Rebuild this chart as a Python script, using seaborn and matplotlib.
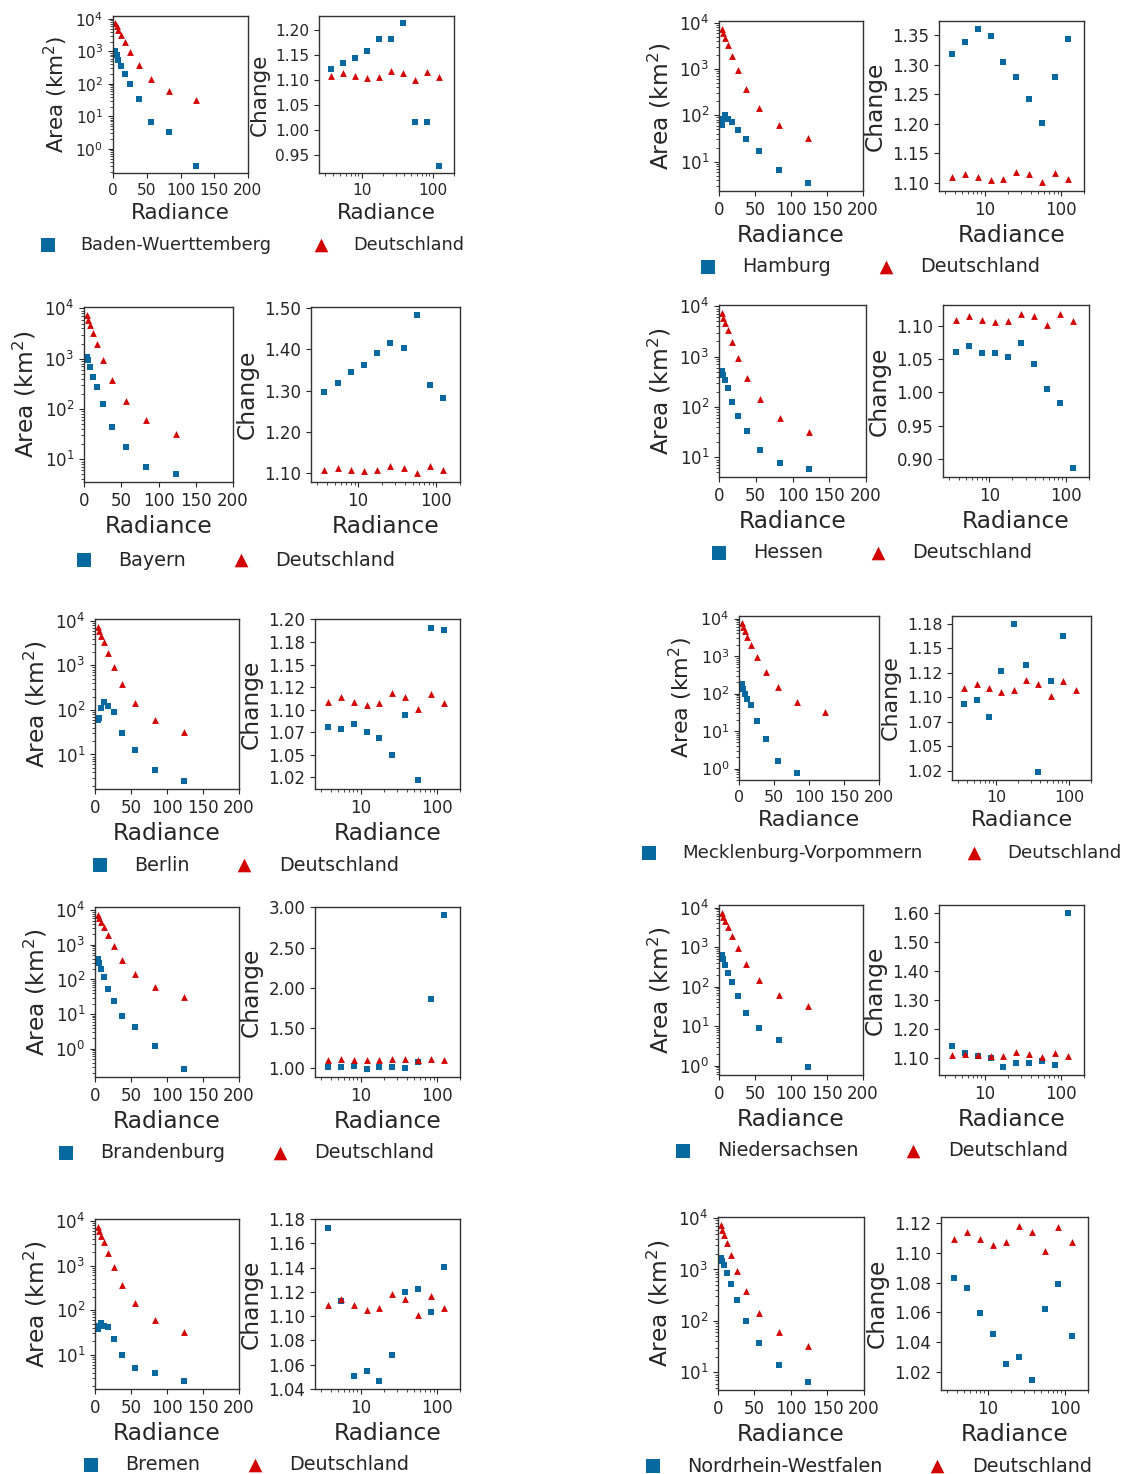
import numpy as np
import pandas as pd
import matplotlib
matplotlib.use("Agg")
import matplotlib.pyplot as plt
import seaborn as sns
from matplotlib.ticker import MultipleLocator, FuncFormatter, NullFormatter

sns.set_style("ticks")
plt.rcParams['font.family'] = ['DejaVu Sans']

# ------------------------------ data ------------------------------
radiance = [3.7, 5.5, 8.1, 11.9, 17.5, 25.8, 38, 56, 83, 123]

de_area = [7400, 5900, 4700, 3300, 1950, 940, 375, 145, 61, 32]
de_change = [1.109, 1.114, 1.109, 1.105, 1.107, 1.118, 1.114, 1.101, 1.117, 1.107]

bw_area = [1000, 790, 550, 355, 205, 100, 34, 6.5, 3.4, 0.3]
bw_change = [1.122, 1.135, 1.144, 1.159, 1.182, 1.183, 1.214, 1.015, 1.015, 0.928]

hh_area = [61, 85, 100, 85, 70, 47, 31.5, 17, 6.5, 3.4]
hh_change = [1.318, 1.339, 1.360, 1.349, 1.304, 1.279, 1.242, 1.202, 1.279, 1.343]

by_area = [1100, 925, 670, 435, 275, 128, 44, 17.7, 7.2, 5.1]
by_change = [1.296, 1.318, 1.346, 1.362, 1.390, 1.414, 1.404, 1.482, 1.314, 1.282]

he_area = [510, 440, 350, 240, 128, 67, 34, 14.2, 7.7, 5.8]
he_change = [1.061, 1.069, 1.059, 1.059, 1.053, 1.074, 1.043, 1.005, 0.984, 0.886]

be_area = [58, 66, 108, 152, 125, 89, 31, 12.5, 4.4, 2.5]
be_change = [1.0805, 1.078, 1.0845, 1.0757, 1.069, 1.050, 1.094, 1.022, 1.191, 1.188]

mv_area = [175, 136, 100, 73, 50, 18, 6.2, 1.58, 0.78, np.nan]
mv_change = [1.0928, 1.0976, 1.0802, 1.1268, 1.1746, 1.133, 1.024, 1.1167, 1.1627, np.nan]

bb_area = [390, 290, 200, 120, 53, 24, 9.1, 4.1, 1.16, 0.255]
bb_change = [1.017, 1.012, 1.025, 0.996, 1.017, 1.017, 1.004, 1.074, 1.860, 2.905]

ni_area = [620, 510, 360, 225, 133, 57, 21.5, 9.2, 4.4, 0.91]
ni_change = [1.139, 1.115, 1.105, 1.100, 1.069, 1.080, 1.083, 1.088, 1.075, 1.602]

hb_area = [37, 44, 52, 45, 41, 23, 10, 5.1, 3.9, 2.55]
hb_change = [1.1725, 1.1127, 1.0502, 1.0546, 1.0466, 1.0679, 1.1203, 1.1222, 1.1036, 1.1409]

nw_area = [1650, 1450, 1200, 850, 515, 252, 100, 37, 13.7, 6.4]
nw_change = [1.0831, 1.0764, 1.0596, 1.0458, 1.0254, 1.0300, 1.0144, 1.0622, 1.0790, 1.0442]

states = ["Baden-Wuerttemberg", "Hamburg", "Bayern", "Hessen", "Berlin",
          "Mecklenburg-Vorpommern", "Brandenburg", "Niedersachsen", "Bremen",
          "Nordrhein-Westfalen"]
state_area = [bw_area, hh_area, by_area, he_area, be_area, mv_area, bb_area, ni_area, hb_area, nw_area]
state_change = [bw_change, hh_change, by_change, he_change, be_change, mv_change, bb_change,
                ni_change, hb_change, nw_change]

# ------------------------------ layout (pixels) ------------------------------
W, H = 1127, 1474
area_box = [(113, 16, 248, 173), (719, 21, 863, 191), (84, 307, 233, 482), (719, 305, 866, 477),
            (95, 619, 239, 789), (739, 616, 879, 780), (95, 907, 239, 1077), (719, 905, 863, 1075),
            (95, 1219, 239, 1389), (718, 1217, 864, 1390)]
change_box = [(319, 16, 454, 173), (939, 21, 1084, 191), (311, 307, 460, 482), (943, 305, 1089, 477),
              (315, 619, 460, 789), (952, 616, 1091, 780), (315, 907, 460, 1077), (939, 905, 1084, 1075),
              (315, 1219, 460, 1389), (941, 1217, 1088, 1390)]
legend_at = [(41, 245), (700, 267), (76, 560), (711, 553), (92, 865), (642, 853), (58, 1153),
             (675, 1151), (83, 1465), (645, 1466)]
change_ylim = [(0.913, 1.229), (1.086, 1.374), (1.079, 1.502), (0.873, 1.131), (1.012, 1.2005),
               (1.0155, 1.183), (0.893, 3.003), (1.04, 1.629), (1.0398, 1.1802), (1.0079, 1.124)]
change_step = [0.05, 0.05, 0.1, 0.05, 0.025, 0.025, 0.5, 0.1, 0.02, 0.02]
scale = [0.92, 1, 1, 1, 1, 0.95, 1, 1, 1, 1]

blue = '#0869a1'
red = '#d20000'


def rect(b):
    l, t, r, bo = b
    return [l / W, 1 - bo / H, (r - l) / W, (bo - t) / H]


fig = plt.figure(figsize=(W / 100, H / 100), dpi=100)

for i, name in enumerate(states):
    sc = scale[i]
    df = pd.DataFrame({'Radiance': radiance, 'area': state_area[i], 'change': state_change[i],
                       'de_area': de_area, 'de_change': de_change})

    # -------- area vs radiance --------
    ax_a = fig.add_axes(rect(area_box[i]))
    sns.scatterplot(x='Radiance', y='area', data=df, ax=ax_a, marker='s', color=blue,
                    s=24, linewidth=0, label=name)
    sns.scatterplot(x='Radiance', y='de_area', data=df, ax=ax_a, marker='^', color=red,
                    s=24, linewidth=0, label='Deutschland')
    ax_a.set_yscale('log')
    ax_a.set_xlim(0, 200)
    ax_a.set_xticks([0, 50, 100, 150, 200])
    ax_a.set_xlabel('Radiance', fontsize=16.8 * sc)
    ax_a.set_ylabel('Area (km$^2$)', fontsize=16.8 * sc)
    ax_a.tick_params(labelsize=12 * sc)

    # -------- change vs radiance --------
    ax_c = fig.add_axes(rect(change_box[i]))
    sns.scatterplot(x='Radiance', y='change', data=df, ax=ax_c, marker='s', color=blue,
                    s=24, linewidth=0, legend=False)
    sns.scatterplot(x='Radiance', y='de_change', data=df, ax=ax_c, marker='^', color=red,
                    s=24, linewidth=0, legend=False)
    ax_c.set_xscale('log')
    ax_c.set_xlim(2.5, 200)
    ax_c.xaxis.set_major_formatter(FuncFormatter(lambda v, p: '%g' % v))
    ax_c.xaxis.set_minor_formatter(NullFormatter())
    ax_c.set_ylim(*change_ylim[i])
    ax_c.yaxis.set_major_locator(MultipleLocator(change_step[i]))
    ax_c.yaxis.set_major_formatter(FuncFormatter(lambda v, p: '%.2f' % round(v, 6)))
    ax_c.set_xlabel('Radiance', fontsize=16.8 * sc)
    ax_c.set_ylabel('Change', fontsize=16.8 * sc)
    ax_c.tick_params(labelsize=12 * sc)

    for ax in (ax_a, ax_c):
        for sp in ax.spines.values():
            sp.set_color('#333333')
            sp.set_linewidth(1.0)

    handles, labels = ax_a.get_legend_handles_labels()
    lx, ly = legend_at[i]
    ax_a.legend(handles, labels, loc='center left', bbox_to_anchor=(lx / W, 1 - ly / H),
                bbox_transform=fig.transFigure, ncol=2, frameon=False, markerscale=2.0,
                handlelength=0.8, handletextpad=1.4, columnspacing=2.45, borderpad=0,
                borderaxespad=0, fontsize=13.8 * sc)

fig.savefig('out.png', dpi=100)
